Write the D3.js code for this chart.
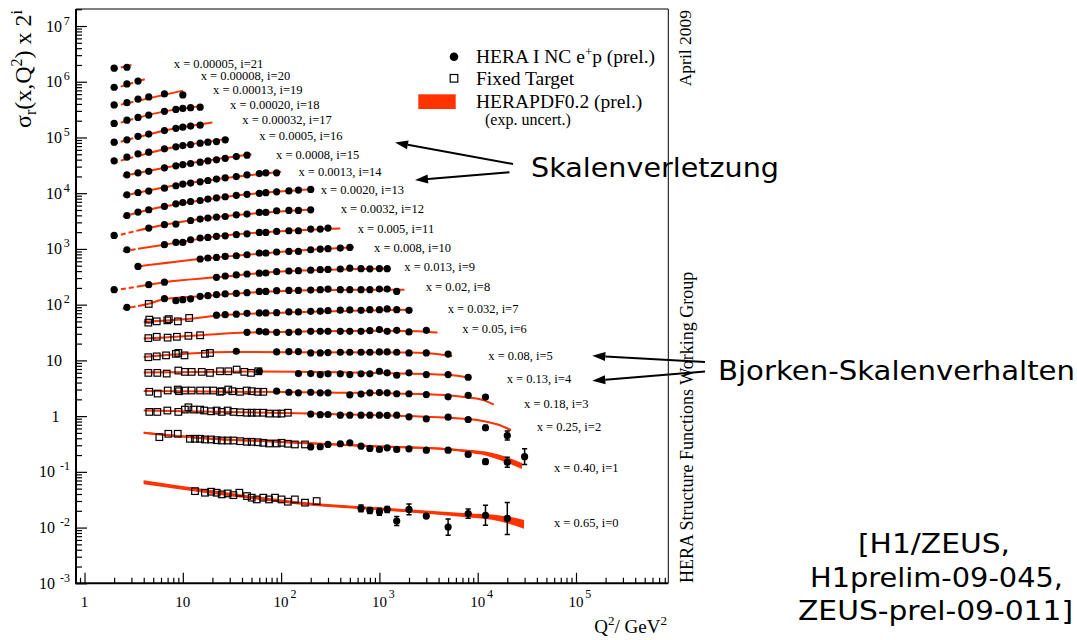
<!DOCTYPE html>
<html>
<head>
<meta charset="utf-8">
<title>HERA reduced cross section</title>
<script src="https://cdn.jsdelivr.net/npm/d3@7"></script>
<style>
html,body{margin:0;padding:0;background:#fff;}
svg{display:block;}
</style>
</head>
<body>
<svg id="chart" width="1077" height="640"></svg>
<script>
// ---------------- DATA ----------------
// Bjorken-x bins, index = i (scale factor 2^i)
const xBins = ["0.65","0.40","0.25","0.18","0.13","0.08","0.05","0.032","0.02","0.013","0.008","0.005","0.0032","0.0020","0.0013","0.0008","0.0005","0.00032","0.00020","0.00013","0.00008","0.00005"];
// where each bin label sits, in data units [Q2, sigma_r*2^i]
const labelAt = [[59730,0.0101],[59730,0.0976],[39830,0.530],[29580,1.37],[19720,4.00],[12820,10.1],[6970,31.5],[4953,71.9],[2958,178],[1792,407],[881,891],[601,1950],[404,4450],[253,9760],[150,20100],[88.8,41400],[60.0,88700],[40.3,172000],[30.2,326000],[20.3,592000],[15.2,1060000],[8.1,1770000]];
const yTickExp = [-3,-2,-1,0,1,2,3,4,5,6,7];
const xTickExp = [0,1,2,3,4,5];

// HERA I NC e+p points: [Q2, sigma_r*2^i] or [Q2, value, low, high]
const H0 = [[650,0.0221,0.0193,0.0253],[800,0.0203,0.0179,0.0230],[1000,0.0193,0.0167,0.0223],[1200,0.0212,0.0187,0.0240],[1500,0.0131,0.0109,0.0158],[2000,0.0212,0.0169,0.0266],[3000,0.0161,0.0148,0.0175],[5000,0.0102,0.0073,0.0142],[8000,0.0178,0.0147,0.0216],[12000,0.0166,0.0110,0.0251],[20000,0.0146,0.0075,0.0283]];
const H1 = [[200,0.280],[250,0.282],[300,0.310],[400,0.319],[500,0.332],[650,0.289],[800,0.263],[1000,0.252],[1200,0.270],[1500,0.252],[2000,0.259],[3000,0.245],[5000,0.245],[8000,0.205],[12000,0.152,0.137,0.169],[20000,0.149,0.121,0.183],[30000,0.187,0.135,0.260]];
const H2 = [[200,1.09],[250,1.06],[300,1.07],[400,1.04],[500,1.04],[650,1.04],[800,1.04],[1000,1.04],[1200,1.03],[1500,1.04],[2000,0.972],[3000,0.895],[5000,0.956],[8000,0.869],[12000,0.617,0.557,0.683],[20000,0.449,0.373,0.541]];
const H3 = [[90,2.80],[120,2.68],[150,2.62],[200,2.68],[250,2.62],[300,2.62],[500,2.41],[650,2.49],[800,2.62],[1000,2.65],[1200,2.62],[1500,2.52],[2000,2.52],[3000,2.44],[5000,2.22],[8000,2.36],[12000,2.20]];
const H4 = [[60,6.38],[150,5.80],[200,5.80],[250,5.57],[300,5.73],[400,5.73],[500,5.57],[650,5.73],[800,5.73],[1000,6.38],[1200,5.97],[1500,5.41],[2000,5.97],[3000,5.57],[5000,5.57],[8000,4.98]];
const H5 = [[35,14.6],[90,14.2],[120,14.4],[150,14.4],[200,13.6],[250,13.6],[300,13.8],[400,14.0],[500,14.0],[650,14.0],[800,14.0],[1000,14.2],[1200,14.2],[1500,14.0],[2000,13.6],[3000,13.6],[5000,13.0]];
const H6 = [[45,31.9],[60,33.2],[70,32.4],[90,31.9],[120,31.9],[150,32.4],[200,33.2],[250,33.2],[300,33.2],[400,33.2],[500,33.2],[650,33.2],[800,34.2],[1000,35.7],[1200,33.2],[1500,34.6],[2000,32.4],[3000,34.6]];
const H7 = [[22,64.8],[27,66.2],[35,67.6],[45,69.9],[60,71.0],[70,71.0],[90,71.9],[120,74.0],[150,74.0],[200,75.9],[250,76.5],[300,78.1],[400,79.7],[500,80.4],[650,79.1],[800,81.4],[1000,81.4],[1200,83.8],[1500,81.4],[2000,79.1]];
const H8 = [[2.7,89.5],[6.5,128],[8.5,118],[10,123],[12,127],[15,141],[18,145],[22,151],[27,156],[35,159],[45,164],[60,173],[70,173],[90,178],[120,180],[150,180],[200,183],[250,186],[300,190],[400,186],[500,186],[650,186],[800,186],[1000,191],[1200,191],[1500,173]];
const H9 = [[2,186],[4.5,228],[6.5,253],[22,309],[27,327],[35,341],[45,355],[60,367],[70,370],[90,390],[120,402],[150,407],[200,415],[250,424],[300,429],[400,436],[500,451],[650,442],[800,440],[1000,444],[1200,442]];
const H10 = [[3.5,486],[15,659],[18,687],[22,704],[27,734],[35,755],[45,787],[60,845],[70,845],[90,880],[120,902],[150,902],[200,967],[250,996],[300,1009],[400,1038],[500,1064]];
const H11 = [[2.7,967],[6.5,1190],[8.5,1310],[10,1310],[12,1460],[15,1570],[18,1610],[22,1680],[27,1720],[35,1800],[45,1870],[60,1980],[70,1980],[90,2060],[120,2120],[150,2120],[200,2270],[250,2270],[300,2370]];
const H12 = [[2,1750],[4.5,2370],[6.5,2720],[8.5,2790],[12,3240],[15,3430],[18,3580],[22,3730],[27,3820],[35,4100],[45,4220],[60,4510],[70,4510],[90,4840],[120,4900],[150,4900],[200,5040]];
const H13 = [[2.7,3980],[3.5,4580],[4.5,5050],[6.5,5780],[8.5,6460],[10,6810],[12,7100],[15,7400],[18,7830],[22,8270],[27,8630],[35,9170],[45,9550],[60,9950],[70,10200],[90,10600],[120,11000],[150,11400],[200,11700]];
const H14 = [[2.7,9350],[3.5,10300],[4.5,10900],[6.5,12300],[8.5,13600],[10,14600],[12,15200],[15,16000],[18,16900],[22,17900],[27,18900],[35,19900],[45,21400],[60,22500],[70,23200],[90,23200]];
const H15 = [[2.7,21400],[3.5,23200],[4.5,24700],[6.5,28500],[8.5,31000],[10,32700],[12,34100],[15,36100],[18,38100],[22,39700],[27,42200],[35,45500],[45,48200]];
const H16 = [[2,38100],[2.7,44400],[3.5,50800],[4.5,54500],[6.5,62500],[8.5,67900],[10,71600],[12,74600],[15,79100],[18,82400],[22,84500],[27,90600]];
const H17 = [[2,82400],[2.7,90600],[3.5,105000],[4.5,115000],[6.5,133000],[8.5,146000],[10,153000],[12,160000],[15,166000]];
const H18 = [[2,179000],[2.7,204000],[3.5,229000],[4.5,252000],[6.5,294000],[8.5,319000],[10,332000],[12,342000],[15,349000]];
const H19 = [[2,384000],[2.7,422000],[3.5,486000],[4.5,534000],[6.5,605000],[10,580000]];
const H20 = [[2,797000],[2.7,913000],[3.5,1030000]];
const H21 = [[2,1750000],[2.7,1820000]];

// Fixed-target points: [Q2, sigma_r*2^i]
const F0 = [[13.3,0.0451],[16.8,0.0422],[19.4,0.0440],[22.1,0.0422],[24.9,0.0394],[28.6,0.0410],[32.7,0.0382],[37.6,0.0422],[45.0,0.0367],[50.2,0.0344],[56.5,0.0320],[65.9,0.0344],[75.3,0.0320],[86.7,0.0344],[101,0.0320],[117,0.0291],[138,0.0320],[175,0.0280],[230,0.0299]];
const F1 = [[5.77,0.419],[7.12,0.482],[8.88,0.482],[11.8,0.392],[13.3,0.392],[15.0,0.392],[16.8,0.381],[19.4,0.381],[22.1,0.370],[24.9,0.365],[28.6,0.365],[32.7,0.365],[38.2,0.355],[45.0,0.346],[50.2,0.346],[57.8,0.340],[65.9,0.332],[75.3,0.323],[90.2,0.323],[101,0.332],[117,0.319],[138,0.310],[175,0.310]];
const F2 = [[4.56,1.19],[5.50,1.19],[6.96,1.26],[9.0,1.19],[10.5,1.31],[11.4,1.44],[12.8,1.31],[15.0,1.31],[16.5,1.26],[19.4,1.22],[22.1,1.26],[24.9,1.19],[28.6,1.26],[32.7,1.19],[38.2,1.17],[45.0,1.15],[50.2,1.15],[56.5,1.15],[65.9,1.15],[75.3,1.11],[90.2,1.11],[101,1.11],[117,1.15]];
const F3 = [[4.56,2.73],[5.55,2.54],[7.02,2.88],[8.88,3.00],[9.15,2.80],[10.5,2.88],[12.3,2.88],[15.0,2.88],[17.5,2.88],[20.4,2.88],[23.9,2.73],[24.9,2.80],[29.0,3.00],[31.9,2.80],[38.2,2.73],[44.7,2.88],[50.2,2.80],[57.8,2.73],[65.9,2.73]];
const F4 = [[4.46,5.97],[5.50,5.97],[6.86,5.80],[9.0,6.57],[10.5,6.22],[12.3,6.22],[15.6,6.22],[18.9,5.97],[23.9,6.38],[29.0,6.38],[35.3,6.84],[42.2,6.22],[49.4,5.97],[58.6,6.38]];
const F5 = [[4.46,11.4],[5.43,11.8],[6.75,12.3],[8.5,13.1],[9.0,13.6],[10.4,12.3],[16.8,13.1],[18.9,13.6]];
const F6 = [[4.46,25.1],[5.43,26.5],[7.0,25.6],[8.7,26.5],[11.4,27.6],[15.0,28.2]];
const F7 = [[4.46,47.6],[4.56,53.9],[5.43,50.2],[6.96,52.3],[7.2,55.0],[8.9,50.2],[11.6,57.8]];
const F8 = [[4.5,103]];

// HERAPDF0.2 fit: [Q2, value] (line) or [Q2, low, high] (uncertainty band)
const T0 = [[4,0.0602,0.0710],[15,0.0432,0.0501],[150,0.0260,0.0295],[1600,0.0193,0.0218],[7700,0.0153,0.0180],[17000,0.0129,0.0165],[29600,0.0095,0.0137]];
const T1 = [[4,0.482,0.523],[15,0.389,0.422],[100,0.330,0.358],[1000,0.274,0.297],[5000,0.245,0.266],[8000,0.221,0.250],[12000,0.197,0.232],[17000,0.162,0.200],[28200,0.112,0.144]];
const T2 = [[4,1.26],[200,1.11],[2000,1.00],[8000,0.887],[12000,0.79,0.81],[16000,0.69,0.725],[21800,0.535,0.585]];
const T3 = [[4,2.82],[300,2.65],[3000,2.46],[5000,2.38],[8000,2.16],[12000,1.88],[14600,1.61]];
const T4 = [[4,6.05],[60,6.30],[1000,5.92],[3000,5.68],[5000,5.50],[8500,4.80]];
const T5 = [[4,11.5],[30,14.1],[2000,13.8],[3000,13.5],[5500,11.9]];
const T6 = [[4,24.6],[15,28.2],[45,31.5],[1000,34.2],[2500,33.5],[3900,31.5]];
const T7 = [[4,49.6],[12,56.1],[22,63.5],[100,71.9],[2100,81.4]];
const T8 = [[2.45,84.8],[4.5,104],[6.5,126],[15,141],[45,163],[200,182],[1800,186]];
const T9 = [[1.95,178],[4.5,228],[6.5,253],[22,309],[100,395],[1300,447]];
const T10 = [[3.5,486],[15,659],[45,787],[200,967],[550,1073]];
const T11 = [[2.45,910],[6.5,1190],[22,1680],[120,2120],[400,2330]];
const T12 = [[1.95,1650],[4.5,2370],[15,3430],[45,4220],[210,5110]];
const T13 = [[2.45,3780],[4.5,5050],[15,7400],[45,9550],[210,11800]];
const T14 = [[2.45,8980],[10,14600],[100,24200]];
const T15 = [[2.45,20300],[10,32700],[50,49800]];
const T16 = [[1.95,35100],[8.5,67900],[29.5,94400]];
const T17 = [[1.95,76800],[8.5,146000],[20,185000]];
const T18 = [[1.95,168000],[6.5,294000],[16,369000]];
const T19 = [[1.95,361000],[10,693000]];
const T20 = [[1.95,743000],[4.1,1110000]];
const T21 = [[1.95,1660000],[3.0,2000000]];

const heraSets = [H0,H1,H2,H3,H4,H5,H6,H7,H8,H9,H10,H11,H12,H13,H14,H15,H16,H17,H18,H19,H20,H21];
const fixedSets = [F0,F1,F2,F3,F4,F5,F6,F7,F8];
const fitSets = [T0,T1,T2,T3,T4,T5,T6,T7,T8,T9,T10,T11,T12,T13,T14,T15,T16,T17,T18,T19,T20,T21];
const fitQ2Min = 3.5; // fit is dashed below this Q2

// ---------------- DRAWING ----------------
const RED = "#ff3300";
const SERIF = "'Liberation Serif','Times New Roman',Times,serif";
const HAND = "'DejaVu Sans','Noto Sans',sans-serif";
const plot = {left:76, right:668.3, top:9, bottom:583.3};

const svg = d3.select("#chart");
svg.append("rect").attr("width",1077).attr("height",640).attr("fill","#fff");

const x = d3.scaleLog().domain([0.819, 8.69e5]).range([plot.left, plot.right]);
const y = d3.scaleLog().domain([1e-3, 2.02e7]).range([plot.bottom, plot.top]);

const defs = svg.append("defs");
defs.append("clipPath").attr("id","loQ").append("rect")
  .attr("x",plot.left).attr("y",0).attr("width",x(fitQ2Min)-plot.left).attr("height",640);
defs.append("clipPath").attr("id","hiQ").append("rect")
  .attr("x",x(fitQ2Min)).attr("y",0).attr("width",plot.right-x(fitQ2Min)).attr("height",640);

// fit curves
const gFit = svg.append("g");
fitSets.forEach(fit => {
  const pts = fit.map(d => d.length === 2 ? [d[0], d[1], d[1]] : d);
  const area = d3.area().x(d => x(d[0])).y0(d => y(d[1])).y1(d => y(d[2])).curve(d3.curveMonotoneX);
  const line = d3.line().x(d => x(d[0])).y(d => y(Math.sqrt(d[1]*d[2]))).curve(d3.curveMonotoneX);
  gFit.append("path").attr("d", area(pts)).attr("fill", RED);
  gFit.append("path").attr("d", line(pts)).attr("fill","none").attr("stroke",RED)
    .attr("stroke-width",2).attr("clip-path","url(#hiQ)");
  gFit.append("path").attr("d", line(pts)).attr("fill","none").attr("stroke",RED)
    .attr("stroke-width",2).attr("stroke-dasharray","5,3").attr("clip-path","url(#loQ)");
});

// fixed target squares
const gFT = svg.append("g");
fixedSets.forEach(set => {
  gFT.selectAll(null).data(set).join("rect")
    .attr("x", d => x(d[0]) - 3.3).attr("y", d => y(d[1]) - 3.3)
    .attr("width", 6.6).attr("height", 6.6)
    .attr("fill","none").attr("stroke","#000").attr("stroke-width",1.2);
});

// HERA points
const gH = svg.append("g");
heraSets.forEach(set => {
  gH.selectAll(null).data(set.filter(d => d.length === 4)).join("path")
    .attr("d", d => {
      const xx = x(d[0]), y0 = y(d[2]), y1 = y(d[3]);
      return `M${xx},${y0}V${y1}M${xx-2.6},${y0}H${xx+2.6}M${xx-2.6},${y1}H${xx+2.6}`;
    })
    .attr("stroke","#000").attr("stroke-width",1.5).attr("fill","none");
  gH.selectAll(null).data(set).join("circle")
    .attr("cx", d => x(d[0])).attr("cy", d => y(d[1])).attr("r", 3.6).attr("fill","#000");
});

// bin labels
svg.append("g").selectAll("text").data(labelAt).join("text")
  .attr("x", d => x(d[0])).attr("y", d => y(d[1]))
  .style("font", `12.5px ${SERIF}`).attr("fill","#000")
  .text((d,i) => `x = ${xBins[i]}, i=${i}`);

// axes (ticks inside)
const yMajor = yTickExp.map(e => Math.pow(10, e));
const yMinor = [];
yTickExp.forEach(e => { for (let m = 2; m <= 9; m++) { const v = m*Math.pow(10,e); if (v <= y.domain()[1]) yMinor.push(v); } });
const xMajor = xTickExp.map(e => Math.pow(10, e));
const xMinor = [];
for (let e = -1; e <= 5; e++) for (let m = 2; m <= 9; m++) { const v = m*Math.pow(10,e); if (v >= x.domain()[0] && v <= x.domain()[1]) xMinor.push(v); }

function tickAxis(axisFn, scale, vals, size, transform) {
  const a = axisFn(scale).tickValues(vals).tickSize(size).tickFormat("");
  const gg = svg.append("g").attr("transform", transform).call(a);
  gg.select(".domain").remove();
  gg.selectAll(".tick line").attr("stroke","#000").attr("stroke-width",1.2);
}
tickAxis(d3.axisRight, y, yMajor, 11, `translate(${plot.left},0)`);
tickAxis(d3.axisRight, y, yMinor, 6, `translate(${plot.left},0)`);
tickAxis(d3.axisTop, x, xMajor, 10.5, `translate(0,${plot.bottom})`);
tickAxis(d3.axisTop, x, xMinor, 5.5, `translate(0,${plot.bottom})`);

// frame
svg.append("path").attr("d", `M${plot.left},${plot.top}H${plot.right}V${plot.bottom}`)
  .attr("fill","none").attr("stroke","#000").attr("stroke-width",1);
svg.append("path").attr("d", `M${plot.left},${plot.top}V${plot.bottom}H${plot.right}`)
  .attr("fill","none").attr("stroke","#000").attr("stroke-width",2);

// y tick labels
const gyl = svg.append("g").style("font", `16px ${SERIF}`).attr("fill","#000");
yTickExp.forEach(e => {
  const ty = y(Math.pow(10, e));
  if (e === 0) {
    gyl.append("text").attr("x",59.5).attr("y",ty+5.5).attr("text-anchor","end").text("1");
  } else if (e === 1) {
    gyl.append("text").attr("x",62).attr("y",ty+5.5).attr("text-anchor","end").text("10");
  } else {
    gyl.append("text").attr("x", e < 0 ? 55 : 62).attr("y",ty+5.5).attr("text-anchor","end").text("10");
    gyl.append("text").attr("x", e < 0 ? 60 : 63.8).attr("y",ty-1.5).style("font-size","12px").text(String(e));
  }
});
// x tick labels
const gxl = svg.append("g").style("font", `15px ${SERIF}`).attr("fill","#000");
xTickExp.forEach(e => {
  const tx = x(Math.pow(10, e));
  if (e === 0) {
    gxl.append("text").attr("x",tx).attr("y",606.7).attr("text-anchor","middle").text("1");
  } else {
    gxl.append("text").attr("x",tx).attr("y",606.7).attr("text-anchor","middle").text("10");
    if (e > 1) gxl.append("text").attr("x",tx+9.3).attr("y",597.7).style("font-size","12px").text(String(e));
  }
});

// axis titles
const xt = svg.append("text").attr("x",667).attr("y",633.3).attr("text-anchor","end")
  .style("font", `19px ${SERIF}`).attr("fill","#000");
xt.append("tspan").text("Q");
xt.append("tspan").attr("dy",-8).style("font-size","13px").text("2");
xt.append("tspan").attr("dy",8).text("/ GeV");
xt.append("tspan").attr("dy",-8).style("font-size","13px").text("2");

const yt = svg.append("text").attr("transform","translate(30.5,10) rotate(-90)").attr("text-anchor","end")
  .style("font", `24px ${SERIF}`).attr("fill","#000");
yt.append("tspan").text("σ");
yt.append("tspan").attr("dy",5).style("font-size","16px").text("r");
yt.append("tspan").attr("dy",-5).text("(x,Q");
yt.append("tspan").attr("dy",-9).style("font-size","16px").text("2");
yt.append("tspan").attr("dy",9).text(") x 2");
yt.append("tspan").attr("dy",-9).style("font-size","16px").text("i");

// side texts
svg.append("text").attr("transform","translate(691,10) rotate(-90)").attr("text-anchor","end")
  .style("font", `17.5px ${SERIF}`).attr("fill","#000").text("April 2009");
svg.append("text").attr("transform","translate(693,583) rotate(-90)").attr("text-anchor","start")
  .style("font", `18px ${SERIF}`).attr("fill","#000").text("HERA Structure Functions Working Group");

// legend
const lg = svg.append("g").style("font", `19.5px ${SERIF}`).attr("fill","#000");
lg.append("circle").attr("cx",454).attr("cy",56.7).attr("r",4.3).attr("fill","#000");
const l1 = lg.append("text").attr("x",476).attr("y",62.5);
l1.append("tspan").text("HERA I NC e");
l1.append("tspan").attr("dy",-7).style("font-size","13px").text("+");
l1.append("tspan").attr("dy",7).text("p (prel.)");
lg.append("rect").attr("x",450.2).attr("y",74.5).attr("width",7.6).attr("height",7.6)
  .attr("fill","none").attr("stroke","#000").attr("stroke-width",1.2);
lg.append("text").attr("x",476).attr("y",85).text("Fixed Target");
lg.append("rect").attr("x",418.3).attr("y",94.3).attr("width",37.4).attr("height",14.7).attr("fill",RED);
lg.append("text").attr("x",476).attr("y",107.5).text("HERAPDF0.2 (prel.)");
lg.append("text").attr("x",485).attr("y",125).style("font-size","16px").text("(exp. uncert.)");

// annotations
function arrow(x1, y1, x2, y2) {
  const ang = Math.atan2(y2-y1, x2-x1), L = 13, hw = 4.5;
  const bx = x2 - L*Math.cos(ang), by = y2 - L*Math.sin(ang);
  svg.append("line").attr("x1",x1).attr("y1",y1).attr("x2",bx).attr("y2",by)
    .attr("stroke","#000").attr("stroke-width",2);
  const px = -Math.sin(ang)*hw, py = Math.cos(ang)*hw;
  svg.append("path").attr("d", `M${x2},${y2}L${bx+px},${by+py}L${bx-px},${by-py}Z`).attr("fill","#000");
}
arrow(513, 164, 395, 142.5);
arrow(509.5, 172.3, 415, 180);
arrow(705, 362, 592.3, 355.7);
arrow(705, 371.5, 592.3, 380.7);

function hand(txt, xx, yy, len, anchor) {
  svg.append("text").attr("x",xx).attr("y",yy).attr("text-anchor",anchor || "start")
    .attr("textLength",len).attr("lengthAdjust","spacingAndGlyphs")
    .style("font", `27px ${HAND}`).attr("fill","#000").text(txt);
}
hand("Skalenverletzung", 531, 177, 248);
hand("Bjorken-Skalenverhalten", 718, 380, 357);
hand("[H1/ZEUS,", 934, 553, 152, "middle");
hand("H1prelim-09-045,", 936.5, 587, 253, "middle");
hand("ZEUS-prel-09-011]", 935.5, 620, 275, "middle");
</script>
</body>
</html>
